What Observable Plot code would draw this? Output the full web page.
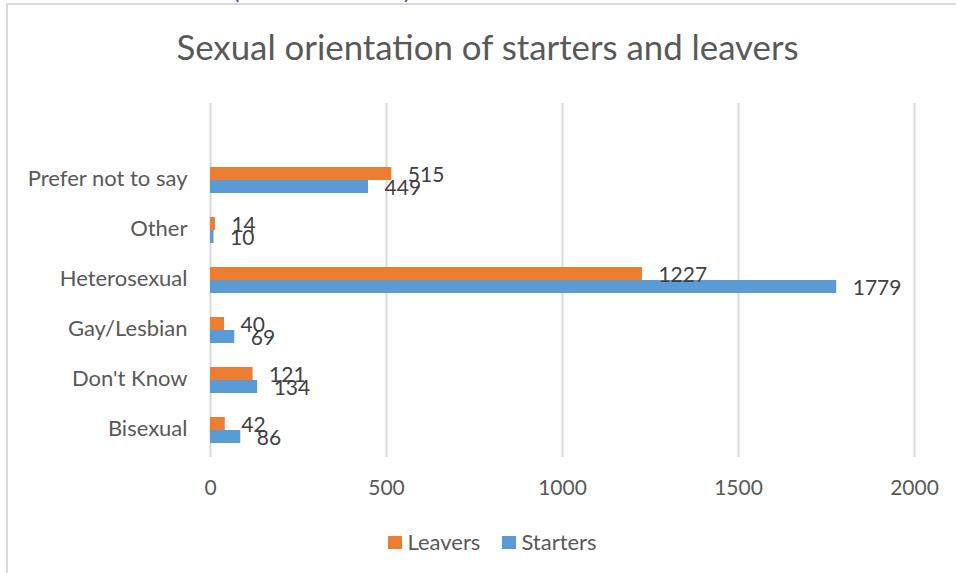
<!DOCTYPE html>
<html>
<head>
<meta charset="utf-8">
<script src="https://cdn.jsdelivr.net/npm/d3@7"></script>
<script src="https://cdn.jsdelivr.net/npm/@observablehq/plot@0.6"></script>
<style>
  html, body { margin: 0; padding: 0; background: #fff; overflow: hidden; }
  body { width: 956px; height: 573px; position: relative; font-family: Lato, "Open Sans", sans-serif; color: #595959; }
  #frame { position: absolute; left: 6px; top: 3px; width: 1200px; height: 1200px; border-left: 2px solid #d9d9d9; border-top: 2px solid #d9d9d9; box-sizing: border-box; }
  .paren { position: absolute; top: -22px; font-size: 24px; color: #2F5597; line-height: 24px; }
  #title { position: absolute; left: 0; width: 975px; top: 27px; text-align: center; font-size: 34.8px; line-height: 40px; color: #595959; }
  #chart { position: absolute; left: 0; top: 90px; }
  #legend { position: absolute; top: 529px; left: 0; width: 985px; display: flex; justify-content: center; gap: 22px; font-size: 22px; line-height: 26px; color: #595959; }
  .item { display: flex; align-items: center; gap: 5px; }
  .sw { width: 14px; height: 13px; display: inline-block; }
</style>
</head>
<body>
<div id="frame"></div>
<span class="paren" style="left:233px">(</span>
<span class="paren" style="left:404px">)</span>
<div id="title">Sexual orientation of starters and leavers</div>
<div id="chart"></div>
<div id="legend"></div>
<script>
const categories = ["Prefer not to say", "Other", "Heterosexual", "Gay/Lesbian", "Don't Know", "Bisexual"];
const leavers  = [515, 14, 1227, 40, 121, 42];
const starters = [449, 10, 1779, 69, 134, 86];
const seriesNames = ["Leavers", "Starters"];
const seriesColors = ["#ED7D31", "#5B9BD5"];
const xTicks = [0, 500, 1000, 1500, 2000];

const leaverRows = categories.map((c, i) => ({category: c, value: leavers[i]}));
const starterRows = categories.map((c, i) => ({category: c, value: starters[i]}));

const chart = Plot.plot({
  width: 956,
  height: 420,
  marginLeft: 210,
  marginRight: 42,
  marginTop: 13,
  marginBottom: 53,
  style: {fontFamily: "Lato, 'Open Sans', sans-serif", fontSize: "21px", color: "#595959", background: "transparent", overflow: "visible"},
  x: {domain: [0, 2000], label: null},
  y: {domain: categories, range: [62, 367], paddingInner: 0.488, paddingOuter: 0.244, label: null},
  marks: [
    Plot.ruleX(xTicks, {stroke: "#d9d9d9", strokeWidth: 2}),
    Plot.axisY({tickSize: 0, tickPadding: 23, fontSize: 22, dy: -1.5, label: null}),
    Plot.axisX(xTicks, {tickSize: 0, tickPadding: 23, fontSize: 21, label: null, tickFormat: d => String(d)}),
    Plot.barX(leaverRows, {x: "value", y: "category", fill: seriesColors[0], insetBottom: 13}),
    Plot.barX(starterRows, {x: "value", y: "category", fill: seriesColors[1], insetTop: 13}),
    Plot.text(leaverRows, {x: "value", y: "category", text: d => String(d.value), dx: 16, dy: -5, textAnchor: "start", fill: "#404040", fontSize: 21}),
    Plot.text(starterRows, {x: "value", y: "category", text: d => String(d.value), dx: 16, dy: 8, textAnchor: "start", fill: "#404040", fontSize: 21})
  ]
});
document.getElementById("chart").appendChild(chart);

const legend = document.getElementById("legend");
seriesNames.forEach((name, i) => {
  const item = document.createElement("div");
  item.className = "item";
  const sw = document.createElement("span");
  sw.className = "sw";
  sw.style.background = seriesColors[i];
  const label = document.createElement("span");
  label.textContent = name;
  item.appendChild(sw);
  item.appendChild(label);
  legend.appendChild(item);
});
</script>
</body>
</html>
